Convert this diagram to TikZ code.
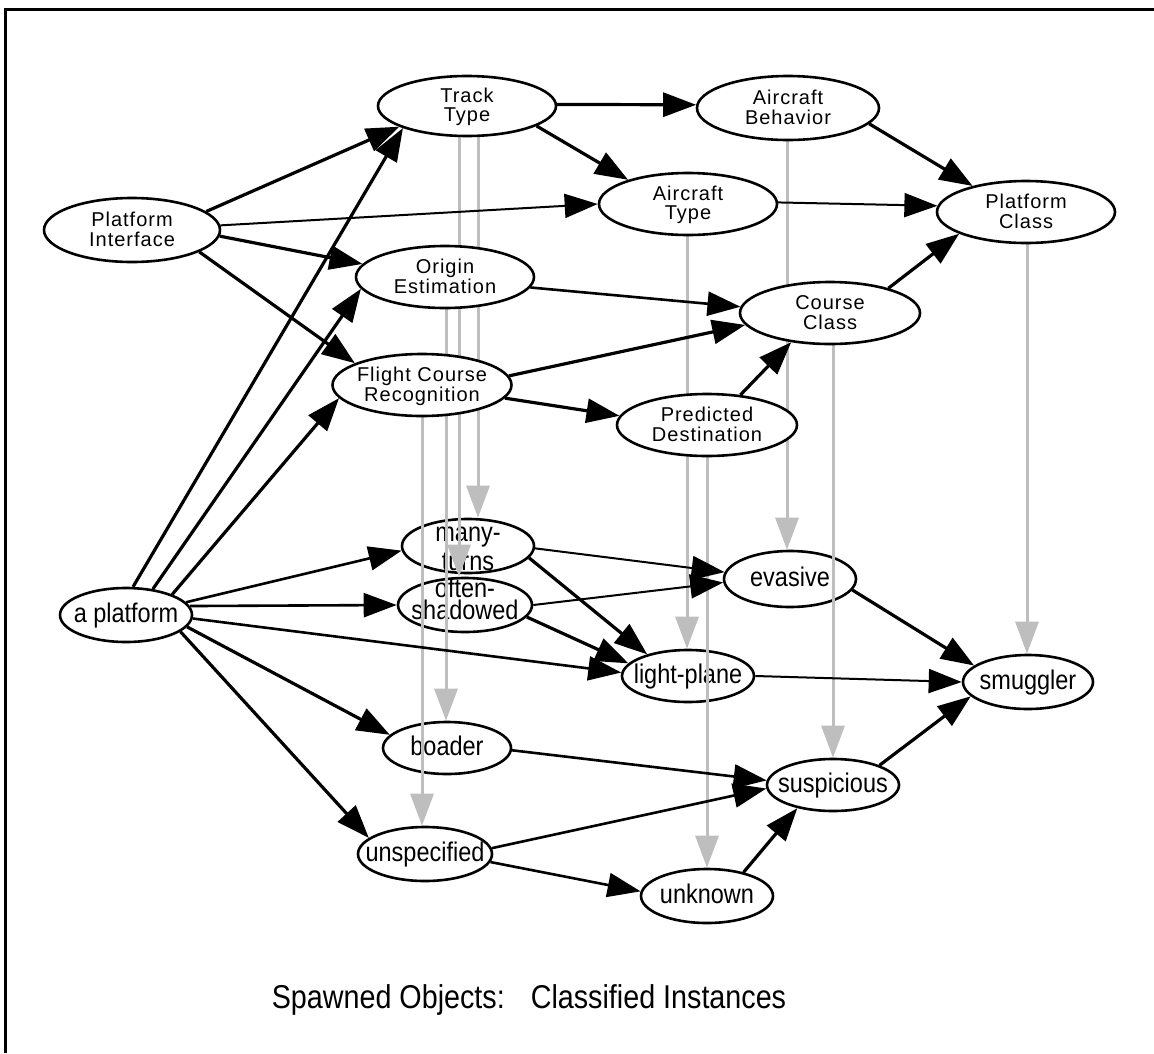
\documentclass[tikz,border=0pt]{standalone}
\usepackage{fontspec}
\setmainfont{Liberation Sans}
\newfontfamily\upfont[LetterSpace=5]{Liberation Sans}
\newfontfamily\lowfont[FakeStretch=0.87]{Liberation Sans}
\usetikzlibrary{shapes.geometric,arrows.meta}
\definecolor{lgray}{RGB}{190,190,190}
\newcommand\one[1]{\makebox[0pt]{\smash{\raisebox{-7.5pt}{#1}}}}
\newcommand\two[4]{\makebox[0pt]{\smash{\raisebox{#1}{\begin{tabular}[t]{@{}c@{}}#3\\[#2]#4\end{tabular}}}}}
\tikzset{
  basenode/.style={ellipse, draw, line width=2.6pt, inner sep=0pt},
  upper/.style={basenode, fill=white, font=\upfont\fontsize{20}{18}\selectfont},
  lower/.style={basenode, font=\lowfont\fontsize{27}{29}\selectfont},
  arr/.style={-{Triangle[length=33pt,width=24pt]}},
  ek/.style={arr, line width=3.2pt},
  em/.style={arr, line width=2.6pt},
  et/.style={arr, line width=2pt},
  glink/.style={draw=lgray, line width=3pt, -{Triangle[length=32pt,width=23pt]}},
}
\begin{document}
\begin{tikzpicture}[x=1pt,y=-1pt]
\useasboundingbox (0,0) rectangle (1154,1053);
\draw[line width=3pt] (5.5,1053) -- (5.5,9.5) -- (1154,9.5);

\coordinate (cTT) at (467,106);
\coordinate (cOE) at (445,277);
\coordinate (cFCR) at (422,385);
\coordinate (cAT) at (688,204);
\coordinate (cAB) at (788,108);
\coordinate (cCC) at (830,313);
\coordinate (cPD) at (707,425);
\coordinate (cPC) at (1026,212);

% lower nodes (unfilled)
\node[lower, minimum width=132pt, minimum height=54pt] (mt) at (468,546) {\two{5pt}{0pt}{many-}{turns}};
\node[lower, minimum width=134pt, minimum height=54pt] (os) at (465,605) {\two{8pt}{-7pt}{often-}{shadowed}};
\node[lower, minimum width=132pt, minimum height=56pt] (ev) at (790,579) {\one{evasive}};
\node[lower, minimum width=132pt, minimum height=54pt] (ap) at (126,615) {\one{a platform}};
\node[lower, minimum width=132pt, minimum height=52pt] (lp) at (688,676) {\one{light-plane}};
\node[lower, minimum width=130pt, minimum height=54pt] (sm) at (1028,682) {\one{smuggler}};
\node[lower, minimum width=128pt, minimum height=52pt] (bo) at (447,748) {\one{boader}};
\node[lower, minimum width=132pt, minimum height=52pt] (su) at (833,785) {\one{suspicious}};
\node[lower, minimum width=134pt, minimum height=54pt] (un) at (425,854) {\one{unspecified}};
\node[lower, minimum width=132pt, minimum height=54pt] (uk) at (707,896) {\one{unknown}};

% gray links (hidden behind filled upper nodes)
\draw[glink] ([xshift=11pt]cTT) -- ([xshift=10pt]mt.north);
\draw[glink] ([xshift=-8pt]cTT) -- ([xshift=-6pt]os.north);
\draw[glink] ([xshift=1pt]cOE) -- ([xshift=-1pt]bo.north);
\draw[glink] (cFCR) -- ([xshift=-3pt]un.north);
\draw[glink] ([xshift=-1pt]cAT) -- ([xshift=-1pt]lp.north);
\draw[glink] ([xshift=-1pt]cAB) -- ([xshift=-3pt]ev.north);
\draw[glink] ([xshift=3pt]cCC) -- (su.north);
\draw[glink] (cPD) -- (uk.north);
\draw[glink] ([xshift=1pt]cPC) -- ([xshift=-1pt]sm.north);

% upper nodes (filled white)
\node[upper, minimum width=178pt, minimum height=60pt] (TT) at (cTT) {\two{4pt}{0.5pt}{Track}{Type}};
\node[upper, minimum width=182pt, minimum height=64pt] (AB) at (cAB) {\two{4pt}{0.5pt}{Aircraft}{Behavior}};
\node[upper, minimum width=178pt, minimum height=62pt] (AT) at (cAT) {\two{4pt}{0.5pt}{Aircraft}{Type}};
\node[upper, minimum width=178pt, minimum height=62pt] (PC) at (cPC) {\two{4pt}{0.5pt}{Platform}{Class}};
\node[upper, minimum width=176pt, minimum height=64pt] (PI) at (132,230) {\two{4pt}{0.5pt}{Platform}{Interface}};
\node[upper, minimum width=178pt, minimum height=62pt] (OE) at (cOE) {\two{4pt}{0.5pt}{Origin}{Estimation}};
\node[upper, minimum width=180pt, minimum height=62pt] (CC) at (cCC) {\two{4pt}{0.5pt}{Course}{Class}};
\node[upper, minimum width=179pt, minimum height=62pt] (FCR) at (cFCR) {\two{4pt}{0.5pt}{Flight Course}{Recognition}};
\node[upper, minimum width=180pt, minimum height=62pt] (PD) at (cPD) {\two{4pt}{0.5pt}{Predicted}{Destination}};

% black links
\draw[ek] (TT.1) -- (AB.178);
\draw[ek] (TT.-16) -- (AT.158);
\draw[ek] (AB.-11) -- (PC.154);
\draw[et] (AT.1) -- (PC.176);
\draw[ek] (CC.23) -- (PC.-162);
\draw[ek] (PI.14) -- (TT.197);
\draw[et] (PI.3) -- (AT.180);
\draw[ek] (PI.-4) -- (OE.171);
\draw[ek] (PI.-18) -- (FCR.162);
\draw[ek] (ap.76) -- (TT.199);
\draw[ek] (ap.44) -- (OE.188);
\draw[ek] (ap.24) -- (FCR.189);
\draw[em] (ap.12) -- (mt.184);
\draw[em] (ap.8) -- (os.180);
\draw[em] (ap.-3) -- (lp.177);
\draw[ek] (ap.-11) -- (bo.167);
\draw[ek] (ap.-17) -- (un.164);
\draw[em] (OE.-7) -- (CC.176);
\draw[ek] (FCR.6) -- (CC.188);
\draw[ek] (FCR.-9) -- (PD.174);
\draw[ek] (PD.42) -- (CC.217);
\draw[et] (mt.-2) -- (ev.174);
\draw[ek] (mt.-11) -- (lp.152);
\draw[et] (os.0) -- (ev.183);
\draw[ek] (os.-11) -- (lp.168);
\draw[ek] (ev.-10) -- (sm.163);
\draw[et] (lp.0) -- (sm.180);
\draw[em] (bo.-2) -- (su.176);
\draw[em] (un.5) -- (su.183);
\draw[em] (un.-7) -- (uk.176);
\draw[ek] (uk.33) -- (su.213);
\draw[ek] (su.23) -- (sm.194);

\node[anchor=base, font=\lowfont\fontsize{33}{33}\selectfont, inner sep=0pt] (cap) at (529,1008) {Spawned Objects:\hspace{26pt}Classified Instances};
\end{tikzpicture}
\end{document}
